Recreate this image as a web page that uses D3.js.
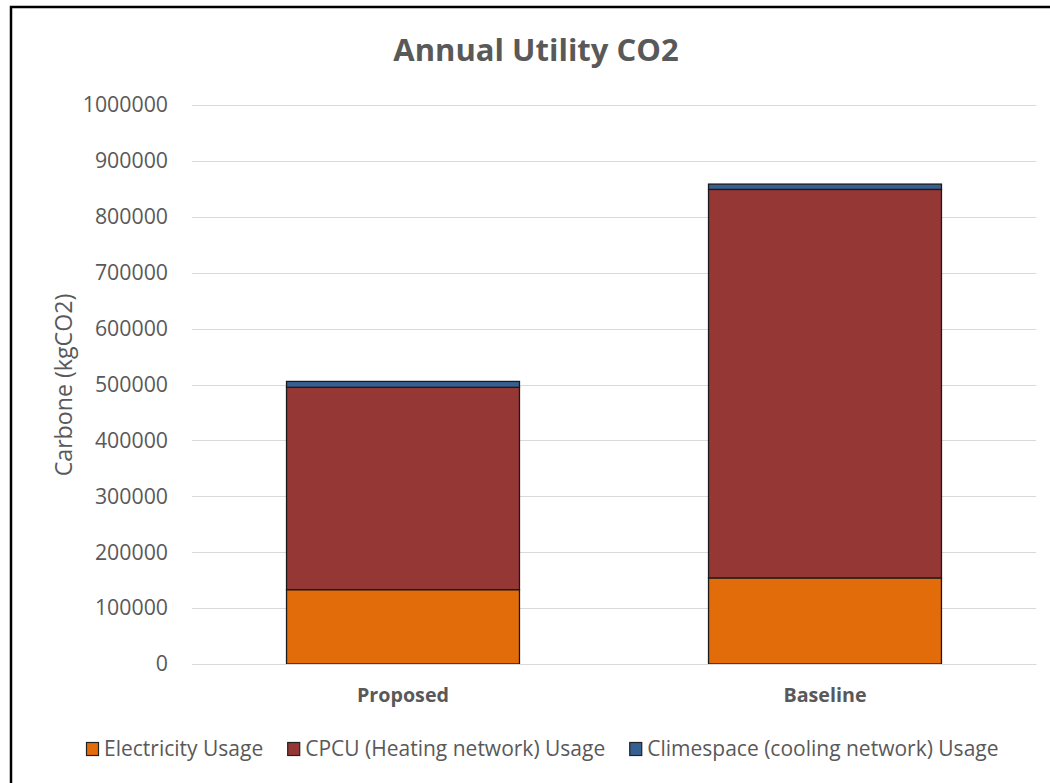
<!DOCTYPE html>
<html>
<head>
<meta charset="utf-8">
<script src="https://cdn.jsdelivr.net/npm/d3@7"></script>
<style>
  html, body { margin: 0; padding: 0; background: #fff; }
  svg { display: block; font-family: "Open Sans", Lato, sans-serif; }
</style>
</head>
<body>
<svg id="chart" width="1050" height="783"></svg>
<script>
const categories = ["Proposed", "Baseline"];
const seriesNames = ["Electricity Usage", "CPCU (Heating network) Usage", "Climespace (cooling network) Usage"];
const electricity = [133000, 154000];
const cpcu = [362000, 695000];
const climespace = [10500, 9500];
const yTicks = [0, 100000, 200000, 300000, 400000, 500000, 600000, 700000, 800000, 900000, 1000000];
const colors = ["#E36C0A", "#953735", "#366092"];

const svg = d3.select("#chart");
const W = 1050, H = 783;
const margin = { left: 192, right: 14, top: 105, bottom: 119 };
const plotW = W - margin.left - margin.right;
const plotH = H - margin.top - margin.bottom;

// frame
svg.append("rect").attr("x", 11).attr("y", 7).attr("width", 1100).attr("height", 900)
  .attr("fill", "#fff").attr("stroke", "#000").attr("stroke-width", 2.5);

const g = svg.append("g").attr("transform", `translate(${margin.left},${margin.top})`);

const x = d3.scaleBand().domain(categories).range([0, plotW]).paddingInner(0.448).paddingOuter(0.224);
const y = d3.scaleLinear().domain([0, 1000000]).range([plotH, 0]);

// gridlines
g.append("g").selectAll("line").data(yTicks).join("line")
  .attr("x1", 0).attr("x2", plotW)
  .attr("y1", d => Math.round(y(d)) + 0.5).attr("y2", d => Math.round(y(d)) + 0.5)
  .attr("stroke", "#d9d9d9").attr("stroke-width", 1);

// y axis
const yAxis = d3.axisLeft(y).tickValues(yTicks).tickFormat(d3.format("d")).tickSize(0).tickPadding(24);
const ya = g.append("g").call(yAxis);
ya.select(".domain").remove();
ya.selectAll("text").attr("fill", "#595959").style("font-size", "21.3px").style("font-family", "'Open Sans', sans-serif");

// stacked data
const rows = categories.map((c, i) => ({ cat: c, s0: electricity[i], s1: cpcu[i], s2: climespace[i] }));
const stack = d3.stack().keys(["s0", "s1", "s2"])(rows);

g.append("g").selectAll("g").data(stack).join("g")
  .attr("fill", (d, i) => colors[i])
  .selectAll("rect").data(d => d).join("rect")
  .attr("x", d => x(d.data.cat))
  .attr("y", d => y(d[1]))
  .attr("width", x.bandwidth())
  .attr("height", d => y(d[0]) - y(d[1]))
  .attr("stroke", "#1a1a1a").attr("stroke-width", 1.3);

// x axis
const xAxis = d3.axisBottom(x).tickSize(0).tickPadding(24);
const xa = g.append("g").attr("transform", `translate(0,${plotH})`).call(xAxis);
xa.select(".domain").attr("stroke", "#d9d9d9");
xa.selectAll("text").attr("fill", "#595959").style("font-size", "19.7px").style("font-weight", "bold").style("font-family", "'Open Sans', sans-serif");

// title
svg.append("text").attr("x", 536).attr("y", 61).attr("text-anchor", "middle")
  .attr("fill", "#595959").style("font-size", "31px").style("font-weight", "bold")
  .text("Annual Utility CO2");

// y title
svg.append("text").attr("transform", "translate(72,385) rotate(-90)").attr("text-anchor", "middle")
  .attr("fill", "#595959").style("font-size", "23.2px").text("Carbone (kgCO2)");

// legend (laid out sequentially)
const lg = svg.append("g").attr("transform", "translate(0,742)");
let cx = 86;
seriesNames.forEach((name, i) => {
  lg.append("rect").attr("x", cx + 0.5).attr("y", 0.5).attr("width", 12).attr("height", 13)
    .attr("fill", colors[i]).attr("stroke", "#222").attr("stroke-width", 1.2);
  const t = lg.append("text").attr("x", cx + 18).attr("y", 14).attr("fill", "#595959")
    .style("font-size", "21px").text(name);
  cx = cx + 18 + t.node().getComputedTextLength() + 24;
});
</script>
</body>
</html>
